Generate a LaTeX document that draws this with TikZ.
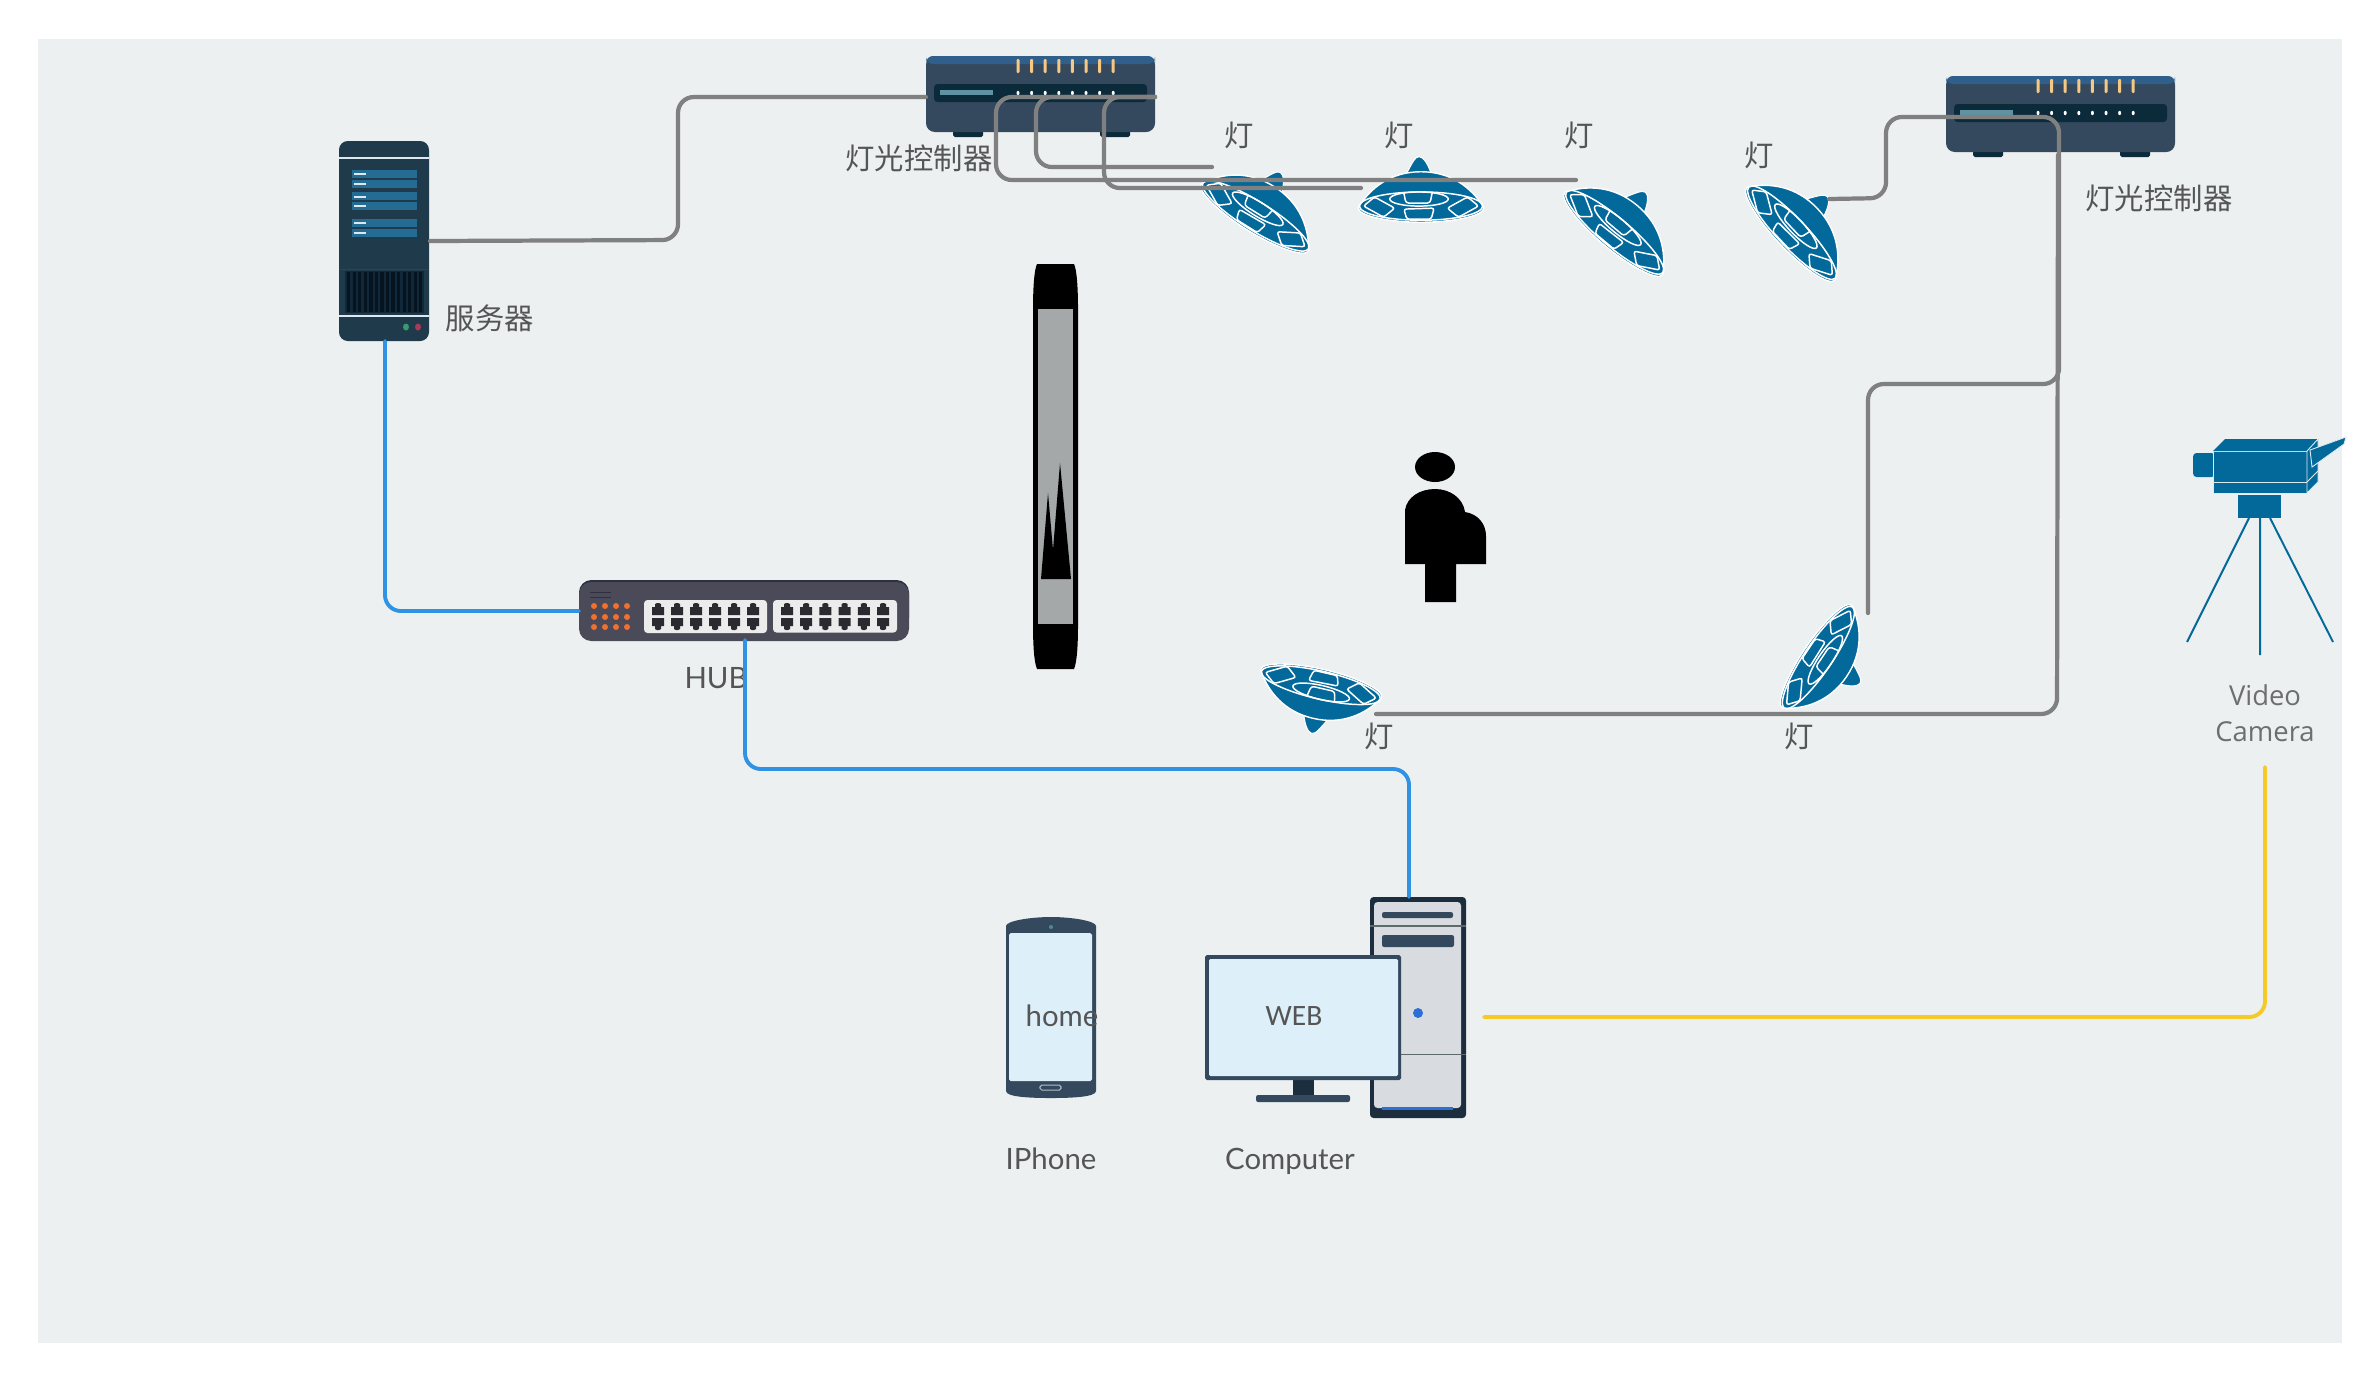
\documentclass[tikz,border=0pt]{standalone}
\usepackage{fontspec}
\setmainfont{Lato}
\newfontfamily\cjk{Noto Sans CJK SC}
\newfontfamily\opensans{Open Sans}
\newfontfamily\carlito{Carlito}
\definecolor{bgc}{HTML}{ECF0F1}
\definecolor{wirec}{HTML}{808080}
\definecolor{bluew}{HTML}{2F92E4}
\definecolor{yelw}{HTML}{F5C926}
\definecolor{lampc}{HTML}{03699B}
\definecolor{txtc}{HTML}{555555}
\definecolor{navy}{HTML}{34495E}
\definecolor{deepc}{HTML}{0B2A3A}
\definecolor{srvc}{HTML}{1F3A4B}
\definecolor{srvbar}{HTML}{246C94}
\definecolor{hubc}{HTML}{4A4A58}
\definecolor{portc}{HTML}{2A2A30}
\definecolor{scrc}{HTML}{DDF0FA}
\definecolor{towerc}{HTML}{1C2E3E}
\definecolor{HTML2F5F8A}{HTML}{2F5F8A}
\definecolor{HTML5F93A3}{HTML}{5F93A3}
\definecolor{HTMLF5C88A}{HTML}{F7C883}
\definecolor{HTMLDDE8F0}{HTML}{DDE8F0}
\definecolor{HTML1A4A68}{HTML}{1A4A68}
\definecolor{HTML10283A}{HTML}{10283A}
\definecolor{HTML06141F}{HTML}{06141F}
\definecolor{HTML3A9A70}{HTML}{3A9A70}
\definecolor{HTMLA83A5A}{HTML}{A83A5A}
\definecolor{HTML2E3040}{HTML}{2E3040}
\definecolor{HTMLF07030}{HTML}{F07030}
\definecolor{HTMLECECEC}{HTML}{ECECEC}
\definecolor{HTMLA5A8A8}{HTML}{A5A8A8}
\definecolor{HTMLDDEBF0}{HTML}{DDEBF0}
\definecolor{HTML4F8A94}{HTML}{4F8A94}
\definecolor{HTMLB5BEC5}{HTML}{B5BEC5}
\definecolor{HTMLD8DCE0}{HTML}{D8DCE0}
\definecolor{HTML5C6A6A}{HTML}{5C6A6A}
\definecolor{HTML2C6FD6}{HTML}{2C6FD6}
\tikzset{
  wire/.style={draw=wirec,line width=1.2pt,rounded corners=4.5pt,line cap=round},
  bluewire/.style={draw=bluew,line width=1.1pt,rounded corners=4.5pt,line cap=round},
  yelwire/.style={draw=yelw,line width=1.1pt,rounded corners=4.5pt,line cap=round},
  devbox/.style={inner sep=0pt,outer sep=0pt,draw=none,fill=none},
  zh/.style={inner sep=0pt,text=txtc,font=\cjk\fontsize{8.35}{10}\selectfont},
  en/.style={inner sep=0pt,text=txtc,font=\fontsize{8.35}{10}\selectfont},
  webfont/.style={inner sep=0pt,text=txtc,font=\carlito\fontsize{8.4}{10}\selectfont},
  cam/.style={inner sep=0pt,text=txtc!85!white,align=center,font=\opensans\fontsize{7.8}{10.3}\selectfont},
  lamp/.pic={
    \fill[lampc,draw=white,line width=0.3pt] (-14,-25) .. controls (-9,-34) and (-6,-41) .. (-2,-41) .. controls (2,-41) and (7,-34) .. (10,-24) -- cycle;
    \fill[lampc,draw=white,line width=0.4pt] (-62,9) .. controls (-50,-10) and (-30,-26) .. (0,-26) .. controls (30,-26) and (50,-10) .. (62,9)
      .. controls (64,18) and (30,24) .. (0,24) .. controls (-30,24) and (-64,18) .. (-62,9) -- cycle;
    \draw[white,line width=0.42pt] (0,8) ellipse (61 and 14);
    \draw[white,line width=0.42pt] (-2,1) ellipse (29 and 7);
    \draw[white,line width=0.42pt,rounded corners=0.8pt] (-17,-5) -- (-15,5) -- (9,5) -- (11,-5);
    \draw[white,line width=0.42pt,rounded corners=0.7pt] (-17,11) -- (13,10) -- (10,21) -- (-14,21) -- cycle;
    \draw[white,line width=0.42pt,rounded corners=0.7pt] (-57,8) -- (-46,-1) -- (-26,10) -- (-37,19) -- cycle;
    \draw[white,line width=0.42pt,rounded corners=0.7pt] (26,10) -- (46,-1) -- (57,8) -- (37,19) -- cycle;
  },
  ctrlpic/.pic={
    \fill[deepc,rounded corners=0.5pt] (27,70) rectangle (57,81);
    \fill[deepc,rounded corners=0.5pt] (174,70) rectangle (204,81);
    \fill[navy,rounded corners=2.5pt] (0,0) rectangle (229,76);
    \fill[HTML2F5F8A,rounded corners=2pt] (0,0) rectangle (229,8);
    \fill[deepc,rounded corners=1pt] (8,28) rectangle (221,46);
    \fill[HTML5F93A3] (14,34) rectangle (67,39);
    \foreach \k in {0,...,7}{
      \fill[HTMLF5C88A,rounded corners=0.3pt] ({92+\k*13.6-1.5},3) rectangle ({92+\k*13.6+1.5},17);
      \fill[white] ({92+\k*13.6},37) ellipse (1.5 and 2.2);
    }
  }
}
\begin{document}
\begin{tikzpicture}[x=0.01cm,y=-0.01cm]
\useasboundingbox (0,0) rectangle (2380,1381);
\fill[bgc] (38,39) rectangle (2342,1343);

% server
\node[devbox,minimum width=0.9cm,minimum height=2cm] (server) at (385,241) {};
\fill[srvc,rounded corners=2.5pt] (339,141) rectangle (429,341);
\fill[HTMLDDE8F0] (339,157) rectangle (429,159);
\foreach \a/\t in {170/174,180/184,192/197,202/206,219/223,229/233}{
  \fill[srvbar] (352,\a) rectangle (417,\a+8);
  \fill[HTMLDDE8F0] (354,\t-1) rectangle (366,\t+1);
}
\fill[HTML1A4A68] (339,268.5) rectangle (429,269.5);
\fill[HTML10283A] (345,271) rectangle (424,313);
\foreach \k in {0,...,13}{ \fill[HTML06141F] ({347+\k*5.55},272) rectangle ({350.3+\k*5.55},312); }
\fill[HTMLDDE8F0] (339,315) rectangle (429,317);
\fill[HTML3A9A70] (406,327) ellipse (3 and 3.5);
\fill[HTMLA83A5A] (418,327) ellipse (3 and 3.5);
\node[zh] (srvlabel) at (490,318) {服务器};

% controllers
\node[devbox,minimum width=2.29cm,minimum height=0.81cm] (ctrla) at (1040.5,97) {};
\pic at (926,56) {ctrlpic};
\node[zh] (ctrlalabel) at (919,158) {灯光控制器};
\node[devbox,minimum width=2.29cm,minimum height=0.81cm] (ctrlb) at (2060.5,117) {};
\pic at (1946,76) {ctrlpic};
\node[zh] (ctrlblabel) at (2159,198) {灯光控制器};

% hub
\node[devbox,minimum width=3.3cm,minimum height=0.61cm] (hub) at (744,611) {};
\fill[HTML2E3040,rounded corners=3.5pt] (579,580) rectangle (909,630);
\fill[hubc,rounded corners=3.5pt] (579,582) rectangle (909,641);
\draw[HTML2E3040,line width=0.25pt] (590,592) -- (611,592) (590,597) -- (611,597);
\foreach \cx in {594,605,616,627}{\foreach \cy in {606,617,627}{\fill[HTMLF07030] (\cx,\cy) circle (3);}}
\fill[HTMLECECEC,rounded corners=1pt] (644,600) rectangle (767,633);
\fill[HTMLECECEC,rounded corners=1pt] (773,600) rectangle (897,632.5);
\foreach \px in {658,677,696,715,734,753,787,806.2,825.4,844.6,863.8,883}{
  \fill[portc] (\px-6,615) -- (\px-6,607) -- (\px-3,607) -- (\px-3,604) -- (\px-1,603) -- (\px+1,603) -- (\px+3,604) -- (\px+3,607) -- (\px+6,607) -- (\px+6,615) -- cycle;
  \fill[portc] (\px-6,618) -- (\px-6,626) -- (\px-3,626) -- (\px-3,629) -- (\px-1,630) -- (\px+1,630) -- (\px+3,629) -- (\px+3,626) -- (\px+6,626) -- (\px+6,618) -- cycle;
}
\node[en] (hublabel) at (716,678) {HUB};

% barrier
\fill[black] (1037,264) -- (1074,264) .. controls (1077,270) and (1078,290) .. (1078,309) -- (1078,624) .. controls (1078,645) and (1077,662) .. (1074,669) -- (1037,669) .. controls (1034,662) and (1033,645) .. (1033,624) -- (1033,309) .. controls (1033,290) and (1034,270) .. (1037,264) -- cycle;
\fill[HTMLA5A8A8] (1038,309) rectangle (1073,624);
\fill[black] (1041,579) -- (1048,493) -- (1053,550) -- (1060,463) -- (1071,579) -- cycle;

% person
\fill[black] (1435,467) ellipse (20 and 15);
\fill[black] (1405,564) -- (1405,510) .. controls (1407,497) and (1420,489) .. (1435,489) .. controls (1450,489) and (1463,498) .. (1465,512) .. controls (1478,514) and (1486,524) .. (1486,536) -- (1486,564) -- (1456,564) -- (1456,602) -- (1425,602) -- (1425,564) -- cycle;

% lamps
\pic[rotate=-32,scale=1.02] at (1260,209) {lamp};
\pic[scale=1.01] at (1421,198) {lamp};
\pic[rotate=-40,scale=1.03] at (1620,226) {lamp};
\pic[rotate=-46.6,scale=1.03] at (1798,227) {lamp};
\pic[rotate=-193] at (1319,693) {lamp};
\pic[rotate=-124] at (1825,662) {lamp};
\node[zh] (lampa) at (1239,135) {灯};
\node[zh] (lampb) at (1399,135) {灯};
\node[zh] (lampc) at (1579,135) {灯};
\node[zh] (lampd) at (1759,155) {灯};
\node[zh] (lampe) at (1379,736) {灯};
\node[zh] (lampf) at (1799,736) {灯};

% video camera
\coordinate (camtop) at (2260,518);
\draw[lampc,line width=0.55pt] (2249,518) -- (2187,642) (camtop) -- (2260,655) (2270,518) -- (2333,642);
\fill[lampc,rounded corners=1pt] (2193,453) rectangle (2215,477);
\fill[lampc,draw=HTMLDDEBF0,line width=0.25pt] (2213,451) rectangle (2307,493);
\draw[HTMLDDEBF0,line width=0.25pt] (2213,482) -- (2307,482);
\fill[lampc] (2213,451) -- (2225,439) -- (2318,439) -- (2307,451) -- cycle;
\fill[lampc,draw=HTMLDDEBF0,line width=0.25pt] (2307,451) -- (2318,439) -- (2318,482) -- (2307,493) -- cycle;
\draw[HTMLDDEBF0,line width=0.25pt] (2307,482) -- (2318,471);
\fill[lampc,draw=HTMLDDEBF0,line width=0.25pt] (2310,450) -- (2346,437) -- (2344,444) -- (2312,467) -- cycle;
\fill[lampc] (2238,495) rectangle (2281,518);
\node[cam] (camlabel) at (2265,713) {Video\\Camera};

\begin{scope}[shift={(0,1)}]
% phone
\fill[navy] (1006,925) .. controls (1006,920) and (1030,916) .. (1051,916) .. controls (1072,916) and (1096,920) .. (1096,925) -- (1096,1090) .. controls (1096,1096) and (1072,1097) .. (1051,1097) .. controls (1030,1097) and (1006,1096) .. (1006,1090) -- cycle;
\fill[scrc,rounded corners=0.5pt] (1009,932) rectangle (1092,1080);
\fill[HTML4F8A94] (1051,926) circle (2);
\draw[HTMLB5BEC5,line width=0.3pt,rounded corners=0.5pt] (1040,1084) rectangle (1061,1089);
\node[en] (phonetext) at (1062,1015) {home};
\node[en] (phonelabel) at (1051,1158) {IPhone};
\node[devbox,minimum width=0.9cm,minimum height=1.81cm] (phone) at (1051,1006.5) {};

% computer
\node[devbox,minimum width=0.96cm,minimum height=2.21cm] (tower) at (1418,1006.5) {};
\fill[towerc,rounded corners=1pt] (1370,896) rectangle (1466,1117);
\fill[HTMLD8DCE0,rounded corners=1pt] (1374,901) rectangle (1461,1107);
\draw[HTML5C6A6A,line width=0.3pt] (1370,925) -- (1466,925) (1401,1053) -- (1466,1053);
\fill[navy,rounded corners=0.6pt] (1382,911) rectangle (1453,917);
\fill[navy,rounded corners=0.6pt] (1382,934) rectangle (1454,946);
\fill[HTML2C6FD6] (1418,1012) circle (5);
\fill[HTML2C6FD6] (1382,1106) rectangle (1453,1109);
\fill[towerc] (1293,1079) rectangle (1314,1094);
\fill[navy,rounded corners=0.6pt] (1256,1094) rectangle (1350,1101);
\fill[navy,rounded corners=0.5pt] (1205,954) rectangle (1401,1079);
\fill[scrc,rounded corners=0.4pt] (1209,958) rectangle (1398,1075);
\node[webfont] (webtext) at (1294,1015) {WEB};
\node[en] (complabel) at (1290,1160) {Computer};
\end{scope}

% connector ends
\coordinate (wa) at (1576,180);
\coordinate (wb) at (1212,167);
\coordinate (wc) at (1361,188);
\coordinate (wd) at (1829,199);
\coordinate (we) at (1868,613);
\coordinate (wf) at (2058,155);
\coordinate (wg) at (1376,714);
\coordinate (wh) at (745,640);
\coordinate (wi) at (1409,897);
\coordinate (wj) at (1484,1017);
\coordinate (wk) at (2265,767);

% connectors
\draw[wire] (server.east) -- (678,240) -- (678,97) -- (ctrla.west);
\draw[wire] (ctrla.east) -- (996,97) -- (996,180) -- (wa);
\draw[wire] (ctrla.east) -- (1036,97) -- (1036,167) -- (wb);
\draw[wire] (ctrla.east) -- (1104,97) -- (1104,188) -- (wc);
\draw[wire] (wd) -- (1886,198) -- (1886,117) -- (2059,117) -- (2059,384) -- (1868,384) -- (we);
\draw[wire] (wf) -- (2057,714) -- (wg);
\draw[bluewire] (server.south) -- (385,611) -- (hub.west);
\draw[bluewire] (wh) -- (745,769) -- (1409,769) -- (wi);
\draw[yelwire] (wj) -- (2265,1017) -- (wk);
\end{tikzpicture}
\end{document}
